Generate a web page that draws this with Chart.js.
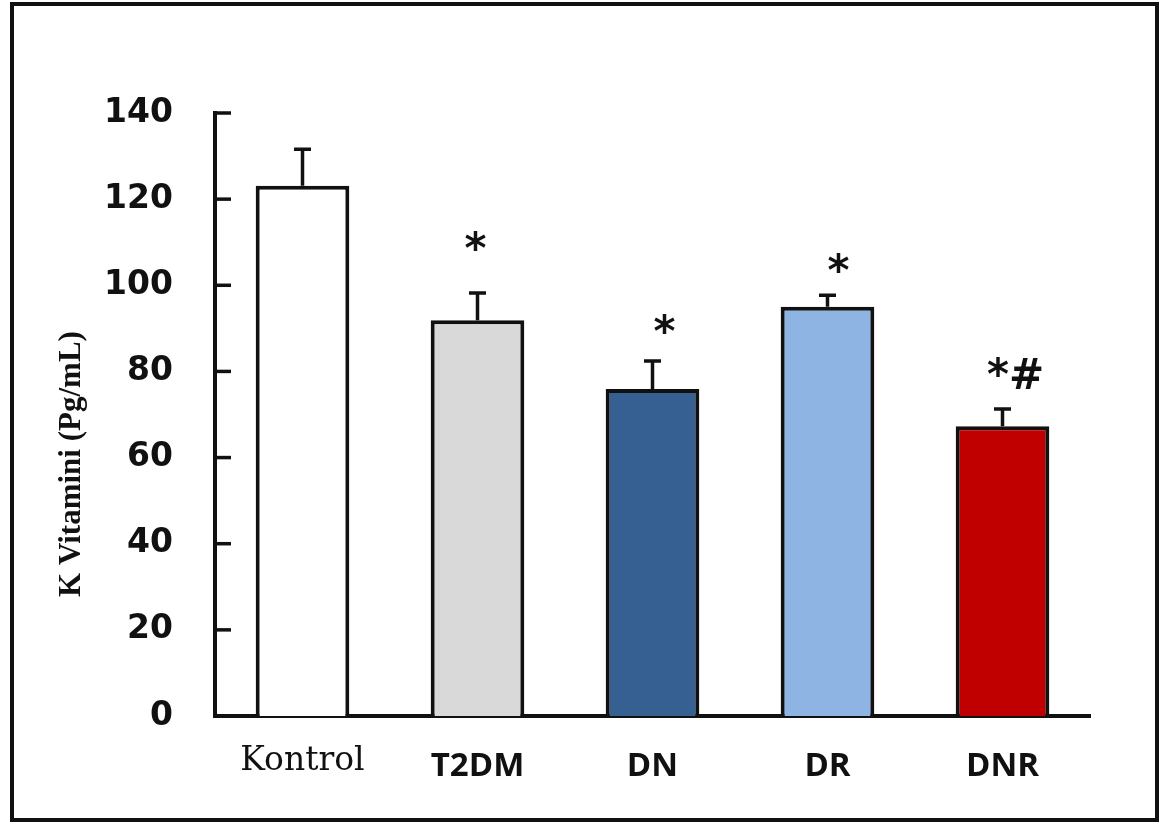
<!DOCTYPE html>
<html>
<head>
<meta charset="utf-8">
<script src="https://cdn.jsdelivr.net/npm/chart.js@4"></script>
<style>
  html, body { margin: 0; padding: 0; background: #fff; }
  canvas { display: block; }
</style>
</head>
<body>
<canvas id="grafico" width="1161" height="825"></canvas>
<script>
// Datos
const grupos = ['Kontrol', 'T2DM', 'DN', 'DR', 'DNR'];
const medias = [123.1, 91.9, 75.9, 95.0, 67.3];
const errores = [8.5, 6.3, 6.5, 2.7, 4.0];
const marcas = ['', '*', '*', '*', '*#'];
const nivelMarcas = [null, 105.2, 85.9, 100.1, 75.9]; // en unidades del eje y
const ticksY = [0, 20, 40, 60, 80, 100, 120, 140];

// Estilos
const colores = ['#ffffff', '#d9d9d9', '#376092', '#8eb4e3', '#c00000'];
const desplazMarcas = [0, -2, 12, 11, 13];
const negro = '#111';

const extras = {
  id: 'extras',
  beforeDraw(chart) {
    const c = chart.ctx;
    c.save();
    c.fillStyle = '#fff';
    c.fillRect(0, 0, chart.width, chart.height);
    c.restore();
  },
  afterDraw(chart) {
    const c = chart.ctx, y = chart.scales.y;
    const meta = chart.getDatasetMeta(0);
    c.save();
    c.strokeStyle = negro;
    c.lineWidth = 4;

    // marco exterior
    c.strokeRect(12, 4, 1145, 816);

    // marcas del eje y hacia dentro
    c.lineWidth = 3.5;
    ticksY.forEach(v => {
      const py = y.getPixelForValue(v);
      c.beginPath();
      c.moveTo(y.right, py);
      c.lineTo(y.right + 16, py);
      c.stroke();
    });

    // barras de error (solo hacia arriba)
    meta.data.forEach((bar, i) => {
      const top = y.getPixelForValue(medias[i] + errores[i]);
      c.beginPath();
      c.moveTo(bar.x, bar.y);
      c.lineTo(bar.x, top);
      c.moveTo(bar.x - 8.5, top);
      c.lineTo(bar.x + 8.5, top);
      c.stroke();
    });

    // asteriscos de significancia
    c.fillStyle = negro;
    c.font = 'bold 42px "DejaVu Sans"';
    c.textAlign = 'center';
    c.textBaseline = 'alphabetic';
    marcas.forEach((m, i) => {
      if (!m) return;
      c.fillText(m, meta.data[i].x + desplazMarcas[i], y.getPixelForValue(nivelMarcas[i]));
    });

    // título del eje y
    c.translate(72, 464);
    c.rotate(-Math.PI / 2);
    c.font = 'bold 31px "Liberation Serif"';
    c.textBaseline = 'middle';
    c.fillText('K Vitamini (Pg/mL)', 0, 0);
    c.restore();
  }
};

new Chart(document.getElementById('grafico').getContext('2d'), {
  type: 'bar',
  data: {
    labels: grupos,
    datasets: [{
      data: medias,
      backgroundColor: colores,
      borderColor: negro,
      borderWidth: 4,
      barPercentage: 0.535,
      categoryPercentage: 1
    }]
  },
  options: {
    responsive: false,
    animation: false,
    layout: { padding: { top: 113, right: 71, left: 0, bottom: 0 } },
    plugins: { legend: { display: false }, tooltip: { enabled: false } },
    scales: {
      x: {
        grid: { display: false, drawTicks: false },
        border: { display: true, color: negro, width: 4 },
        ticks: {
          color: negro,
          padding: 31,
          font: (ctx) => ctx.index === 0
            ? { family: 'DejaVu Serif', size: 33, weight: 'normal', lineHeight: 0.9 }
            : { family: 'Open Sans', size: 33, weight: 'bold' }
        },
        afterFit: (s) => { s.height = 109; }
      },
      y: {
        min: 0,
        max: 140,
        grid: { display: false, drawTicks: false },
        border: { display: true, color: negro, width: 4 },
        ticks: {
          stepSize: 20,
          color: negro,
          padding: 42,
          font: { family: 'DejaVu Sans', size: 33, weight: 'bold' }
        },
        afterFit: (s) => { s.width = 215; }
      }
    }
  },
  plugins: [extras]
});
</script>
</body>
</html>
